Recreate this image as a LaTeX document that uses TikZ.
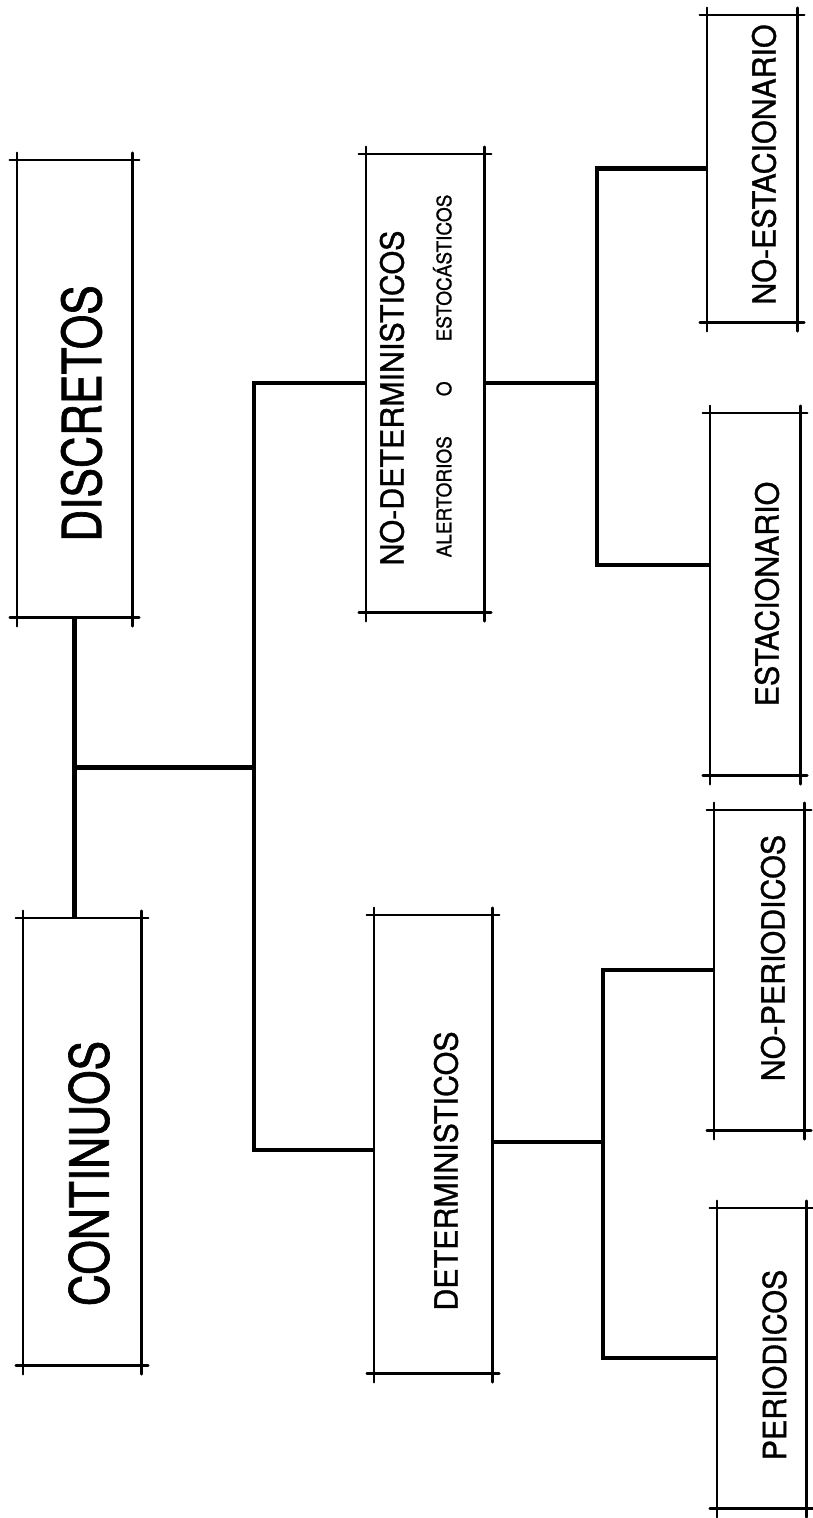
\documentclass[tikz,border=0pt]{standalone}
\usepackage{fontspec}
\setmainfont{TeX Gyre Heros}
\newfontfamily\rotgrande[FakeStretch=0.82,FakeBold=1.2]{TeX Gyre Heros}
\newfontfamily\rotmedio[FakeStretch=0.95,FakeBold=1]{TeX Gyre Heros}
\usepackage{tikz}
\usetikzlibrary{calc}

\begin{document}
\begin{tikzpicture}[x=1pt,y=-1pt,
  caja/.style 2 args={minimum width=#1, minimum height=#2, inner sep=0pt},
  marco/.style={line width=2.6pt, line cap=round},
  enlace/.style={line width=4.5pt},
  grande/.style={rotate=90, inner sep=0pt, font=\rotgrande\fontsize{54}{60}\selectfont},
  medio/.style={rotate=90, inner sep=0pt, font=\rotmedio\fontsize{32}{36}\selectfont},
  chico/.style={rotate=90, inner sep=0pt, font=\rotmedio\fontsize{20}{24}\selectfont}]
\useasboundingbox (0,0) rectangle (813,1518);
\node[caja={115}{457}] (disc) at (74.5,388.5) {};
\node[caja={118}{447}] (cont) at (82,1141.5) {};
\node[caja={118}{458}] (nodet) at (425,383) {};
\node[caja={118}{458}] (det) at (433,1144) {};
\node[caja={90}{307}] (noest) at (752,168.5) {};
\node[caja={90}{362}] (est) at (755,594) {};
\node[caja={90}{320}] (noper) at (759,970) {};
\node[caja={89}{300}] (per) at (761.5,1358) {};
\node[grande] (tdisc) at ([shift={(7,25)}]disc.center) {DISCRETOS};
\node[grande] (tcont) at ([shift={(7,32)}]cont.center) {CONTINUOS};
\node[medio] (tnodet) at ([shift={(-33,15)}]nodet.center) {NO-DETERMINISTICOS};
\node[chico] (tnodet2) at ([shift={(19,-7)}]nodet.center) {ALERTORIOS\quad\quad O\quad\quad ESTOC\smash{\'A}STICOS};
\node[medio] (tdet) at ([shift={(13,27)}]det.center) {DETERMINISTICOS};
\node[medio] (tnoest) at ([shift={(12,-4)}]noest.center) {NO-ESTACIONARIO};
\node[medio] (test) at ([shift={(12,0)}]est.center) {ESTACIONARIO};
\node[medio] (tnoper) at ([shift={(14,-12)}]noper.center) {NO-PERIODICOS};
\node[medio] (tper) at ([shift={(13,7)}]per.center) {PERIODICOS};
\foreach \n in {disc,cont,nodet,det,noest,est,noper,per}{
  \draw[marco] ([xshift=-7pt]\n.north west) -- ([xshift=7pt]\n.north east);
  \draw[marco] ([xshift=-7pt]\n.south west) -- ([xshift=7pt]\n.south east);
  \draw[marco] ([yshift=7pt]\n.north west) -- ([yshift=-9pt]\n.south west);
  \draw[marco] ([yshift=7pt]\n.north east) -- ([yshift=-9pt]\n.south east);
}
\coordinate (tallo) at ($(disc.south)!0.5!(disc.south |- cont.north)$);
\coordinate (b1) at (254,1150);
\coordinate (r1) at (597,565);
\coordinate (r2) at (603,1142);
\draw[enlace] (disc.south) -- (disc.south |- cont.north);
\draw[enlace] (tallo) -- (tallo -| b1);
\draw[enlace] (nodet.west) -| (b1) -- (b1 -| det.west);
\draw[enlace] (nodet.east) -- (nodet.east -| r1);
\draw[enlace] (noest.west) -| (r1) -- (r1 -| est.west);
\draw[enlace] (det.east |- r2) -- (r2);
\draw[enlace] (noper.west) -| (r2) |- (per.west);
\end{tikzpicture}
\end{document}
